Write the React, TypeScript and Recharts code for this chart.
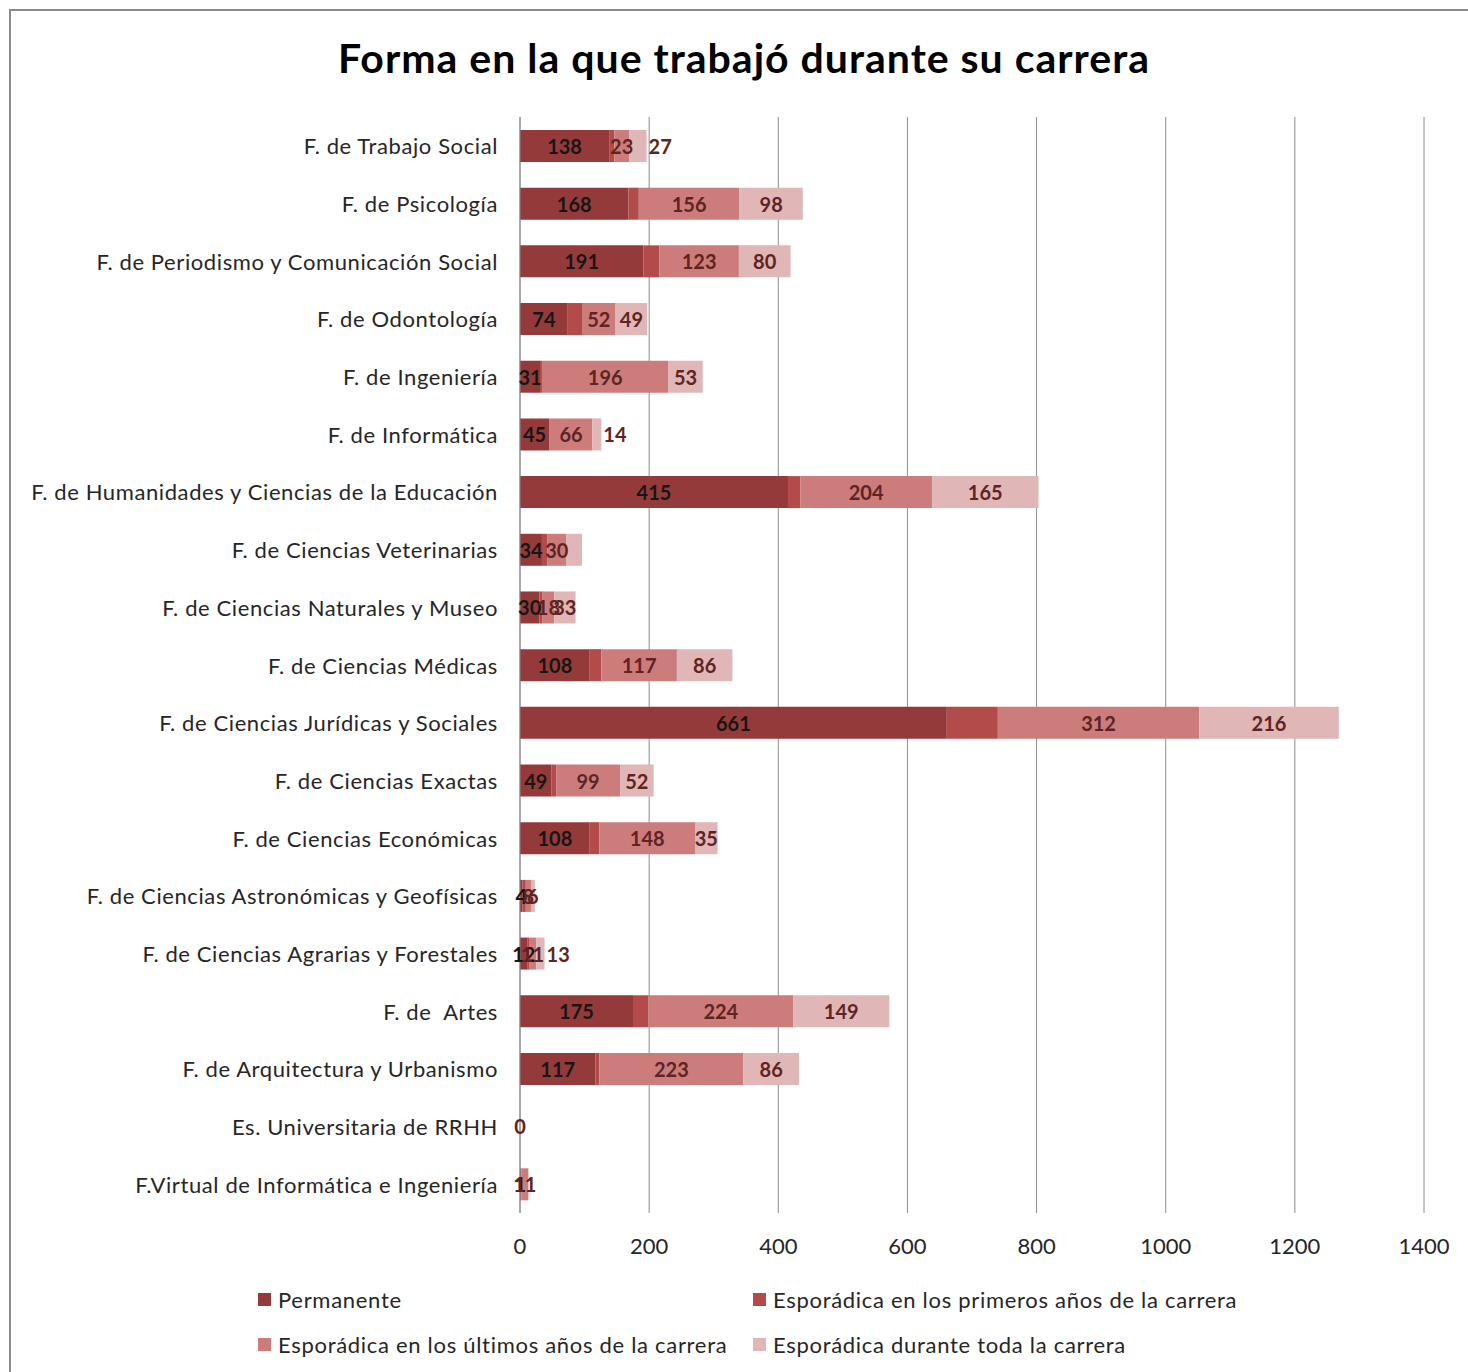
import React from 'react';
import { BarChart, Bar, XAxis, YAxis, CartesianGrid, LabelList, ReferenceDot } from 'recharts';

const categories = [
  'F. de Trabajo Social',
  'F. de Psicología',
  'F. de Periodismo y Comunicación Social',
  'F. de Odontología',
  'F. de Ingeniería',
  'F. de Informática',
  'F. de Humanidades y Ciencias de la Educación',
  'F. de Ciencias Veterinarias',
  'F. de Ciencias Naturales y Museo',
  'F. de Ciencias Médicas',
  'F. de Ciencias Jurídicas y Sociales',
  'F. de Ciencias Exactas',
  'F. de Ciencias Económicas',
  'F. de Ciencias Astronómicas y Geofísicas',
  'F. de Ciencias Agrarias y Forestales',
  'F. de  Artes',
  'F. de Arquitectura y Urbanismo',
  'Es. Universitaria de RRHH',
  'F.Virtual de Informática e Ingeniería',
];

const permanente = [138, 168, 191, 74, 31, 45, 415, 34, 30, 108, 661, 49, 108, 4, 12, 175, 117, 0, 1];
const primeros = [8, 16, 25, 22, 3, 1, 19, 8, 5, 18, 79, 7, 15, 5, 2, 24, 6, 0, 1];
const ultimos = [23, 156, 123, 52, 196, 66, 204, 30, 18, 117, 312, 99, 148, 8, 11, 224, 223, 0, 11];
const durante = [27, 98, 80, 49, 53, 14, 165, 24, 33, 86, 216, 52, 35, 6, 13, 149, 86, 0, null];

const xTicks = [0, 200, 400, 600, 800, 1000, 1200, 1400];

// labels that are not shown in the original
const hiddenLabels = ['durante:F. de Ciencias Veterinarias'];

const series = [
  { key: 'permanente', name: 'Permanente', color: '#953A3A', labelColor: '#161616', showLabels: true },
  { key: 'primeros', name: 'Esporádica en los primeros años de la carrera', color: '#B24B49', labelColor: '#5E2424', showLabels: false },
  { key: 'ultimos', name: 'Esporádica en los últimos años de la carrera', color: '#CC7C7B', labelColor: '#5E2424', showLabels: true },
  { key: 'durante', name: 'Esporádica durante toda la carrera', color: '#E0B6B6', labelColor: '#5E2424', showLabels: true },
];

const data = categories.map((name, i) => ({
  name,
  permanente: permanente[i],
  primeros: primeros[i],
  ultimos: ultimos[i],
  durante: durante[i],
}));

// rows where everything is zero still get a "0" label
const zeroRows = data.filter(
  (d) => (d.permanente || 0) + (d.primeros || 0) + (d.ultimos || 0) + (d.durante || 0) === 0
);

const FONT = 'Lato, "Open Sans", sans-serif';
const LABEL_SIZE = 20;

const makeLabel = (key: string, color: string) => (props: any) => {
  const { x, y, width, height, value, index } = props;
  if (value === null || value === undefined) return null;
  if (hiddenLabels.includes(`${key}:${categories[index]}`)) return null;
  const w = Number(width) || 0;
  const cy = Number(y) + Number(height) / 2;
  // narrow last segments with two-digit values get their label pushed past the bar end
  const outside = key === 'durante' && w > 0 && w < 20 && Number(value) >= 10;
  return (
    <text
      x={outside ? Number(x) + w + 2 : Number(x) + w / 2}
      y={cy}
      textAnchor={outside ? 'start' : 'middle'}
      dominantBaseline="central"
      fontFamily={FONT}
      fontWeight={700}
      fontSize={LABEL_SIZE}
      fill={color}
    >
      {value}
    </text>
  );
};

const CategoryTick = (props: any) => {
  const { x, y, payload } = props;
  return (
    <text
      x={x - 14}
      y={y}
      textAnchor="end"
      dominantBaseline="central"
      fontFamily={FONT}
      fontSize={22}
      letterSpacing={0.6}
      fill="#262626"
      style={{ whiteSpace: 'pre' }}
    >
      {payload.value}
    </text>
  );
};

const ZeroMark = (props: any) => (
  <text
    x={props.cx}
    y={props.cy}
    textAnchor="middle"
    dominantBaseline="central"
    fontFamily={FONT}
    fontWeight={700}
    fontSize={LABEL_SIZE}
    fill="#5E2424"
  >
    0
  </text>
);

export default function App() {
  return (
    <div
      style={{
        position: 'absolute',
        left: 0,
        top: 0,
        width: 1468,
        height: 1372,
        overflow: 'hidden',
        background: '#fff',
        fontFamily: FONT,
      }}
    >
      {/* chart frame */}
      <div
        style={{
          position: 'absolute',
          left: 9,
          top: 9,
          width: 1500,
          height: 1400,
          border: '2px solid #8a8a8a',
          boxSizing: 'border-box',
        }}
      />

      <div
        style={{
          position: 'absolute',
          left: 0,
          width: 1488,
          top: 33,
          textAlign: 'center',
          fontWeight: 700,
          fontSize: 41,
          letterSpacing: 1,
          color: '#000',
        }}
      >
        Forma en la que trabajó durante su carrera
      </div>

      <div style={{ position: 'absolute', left: 0, top: 0 }}>
        <BarChart
          width={1468}
          height={1372}
          data={data}
          layout="vertical"
          margin={{ top: 117, right: 44, bottom: 119, left: 0 }}
          barSize={32}
        >
          <CartesianGrid horizontal={false} stroke="#8c8c8c" />
          <XAxis
            type="number"
            domain={[0, 1400]}
            ticks={xTicks}
            axisLine={false}
            tickLine={false}
            height={40}
            tick={{ fontSize: 22, fill: '#262626', fontFamily: FONT }}
            dy={17}
          />
          <YAxis
            type="category"
            dataKey="name"
            width={520}
            axisLine={{ stroke: '#8c8c8c' }}
            tickLine={false}
            tick={<CategoryTick />}
            interval={0}
          />
          {series.map((s) => (
            <Bar key={s.key} dataKey={s.key} stackId="a" fill={s.color} isAnimationActive={false}>
              {s.showLabels && <LabelList dataKey={s.key} content={makeLabel(s.key, s.labelColor)} />}
            </Bar>
          ))}
          {zeroRows.map((d) => (
            <ReferenceDot key={d.name} x={0} y={d.name} r={0} shape={<ZeroMark />} ifOverflow="visible" />
          ))}
        </BarChart>
      </div>

      {/* legend */}
      {series.map((s, i) => {
        const col = i % 2;
        const row = Math.floor(i / 2);
        return (
          <div
            key={s.key}
            style={{
              position: 'absolute',
              left: col === 0 ? 258 : 753,
              top: 1299 + row * 45 - 14,
              height: 28,
              display: 'flex',
              alignItems: 'center',
              fontSize: 22,
              letterSpacing: 0.7,
              color: '#262626',
              whiteSpace: 'nowrap',
            }}
          >
            <span
              style={{ display: 'inline-block', width: 13, height: 13, background: s.color, marginRight: 7 }}
            />
            {s.name}
          </div>
        );
      })}
    </div>
  );
}
